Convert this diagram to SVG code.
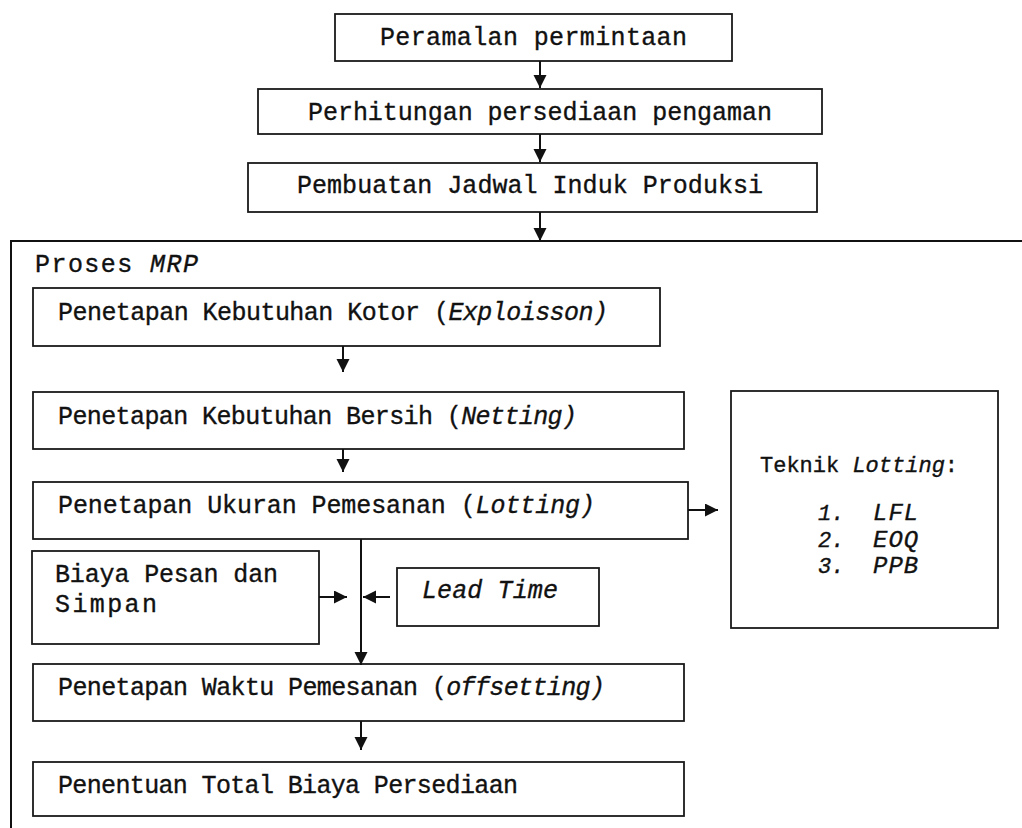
<svg xmlns="http://www.w3.org/2000/svg" width="1022" height="828" viewBox="0 0 1022 828">
<style>
.box{fill:#fff;stroke:#1a1a1a;stroke-width:1.8}
.t{font-family:"Liberation Mono","DejaVu Sans Mono",monospace;font-size:25px;fill:#111;stroke:#111;stroke-width:0.35}
.s{font-size:22px}
.l{font-size:24px;letter-spacing:1px}
.i{font-style:italic}
.c{stroke:#111;stroke-width:2;fill:none}
</style>
<defs>
<marker id="ah" markerUnits="userSpaceOnUse" markerWidth="14" markerHeight="14" refX="13" refY="6.5" orient="auto">
<path d="M0,0 L13,6.5 L0,13 z" fill="#111"/>
</marker>
</defs>
<rect width="1022" height="828" fill="#fff"/>
<g id="mrp-frame">
<path class="c" d="M11,828 L11,241 L1022,241"/>
<text class="t" x="35" y="272" textLength="163" lengthAdjust="spacing">Proses <tspan class="i">MRP</tspan></text>
</g>
<g id="n1"><rect class="box" x="335" y="14" width="397" height="47"/>
<text class="t" x="380" y="45" textLength="307" lengthAdjust="spacing">Peramalan permintaan</text></g>
<g id="n2"><rect class="box" x="258" y="89" width="564" height="45"/>
<text class="t" x="308" y="120" textLength="464" lengthAdjust="spacing">Perhitungan persediaan pengaman</text></g>
<g id="n3"><rect class="box" x="248" y="163" width="569" height="49"/>
<text class="t" x="297" y="193" textLength="466" lengthAdjust="spacing">Pembuatan Jadwal Induk Produksi</text></g>
<g id="n4"><rect class="box" x="33" y="288" width="627" height="58"/>
<text class="t" x="58" y="320" textLength="550" lengthAdjust="spacing">Penetapan Kebutuhan Kotor (<tspan class="i">Exploisson)</tspan></text></g>
<g id="n5"><rect class="box" x="33" y="392" width="651" height="57"/>
<text class="t" x="58" y="424" textLength="519" lengthAdjust="spacing">Penetapan Kebutuhan Bersih (<tspan class="i">Netting)</tspan></text></g>
<g id="n6"><rect class="box" x="33" y="482" width="655" height="57"/>
<text class="t" x="58" y="513" textLength="537" lengthAdjust="spacing">Penetapan Ukuran Pemesanan (<tspan class="i">Lotting)</tspan></text></g>
<g id="n7"><rect class="box" x="731" y="391" width="267" height="237"/>
<text class="t s" x="760" y="472">Teknik <tspan class="i">Lotting</tspan>:</text>
<text class="t s i" x="818" y="520">1.</text><text class="t l i" x="873" y="520">LFL</text>
<text class="t s i" x="818" y="547">2.</text><text class="t l i" x="873" y="547">EOQ</text>
<text class="t s i" x="818" y="573">3.</text><text class="t l i" x="873" y="573">PPB</text></g>
<g id="n8"><rect class="box" x="32" y="551" width="287" height="93"/>
<text class="t" x="55" y="582" textLength="223" lengthAdjust="spacing">Biaya Pesan dan</text>
<text class="t" x="55" y="612" textLength="102" lengthAdjust="spacing">Simpan</text></g>
<g id="n9"><rect class="box" x="397" y="568" width="202" height="58"/>
<text class="t i" x="422" y="598" textLength="136" lengthAdjust="spacing">Lead Time</text></g>
<g id="n10"><rect class="box" x="33" y="664" width="651" height="57"/>
<text class="t" x="58" y="695" textLength="547" lengthAdjust="spacing">Penetapan Waktu Pemesanan (<tspan class="i">offsetting)</tspan></text></g>
<g id="n11"><rect class="box" x="33" y="762" width="651" height="54"/>
<text class="t" x="58" y="793" textLength="460" lengthAdjust="spacing">Penentuan Total Biaya Persediaan</text></g>
<g id="connectors">
<line class="c" x1="540" y1="61" x2="540" y2="88" marker-end="url(#ah)"/>
<line class="c" x1="540" y1="134" x2="540" y2="162" marker-end="url(#ah)"/>
<line class="c" x1="540" y1="212" x2="540" y2="241" marker-end="url(#ah)"/>
<line class="c" x1="343" y1="346" x2="343" y2="372" marker-end="url(#ah)"/>
<line class="c" x1="343" y1="449" x2="343" y2="472" marker-end="url(#ah)"/>
<line class="c" x1="688" y1="510" x2="718" y2="510" marker-end="url(#ah)"/>
<line class="c" x1="361" y1="539" x2="361" y2="665" marker-end="url(#ah)"/>
<line class="c" x1="319" y1="597" x2="347" y2="597" marker-end="url(#ah)"/>
<line class="c" x1="390" y1="597" x2="363" y2="597" marker-end="url(#ah)"/>
<line class="c" x1="361" y1="721" x2="361" y2="750" marker-end="url(#ah)"/>
</g>
</svg>
